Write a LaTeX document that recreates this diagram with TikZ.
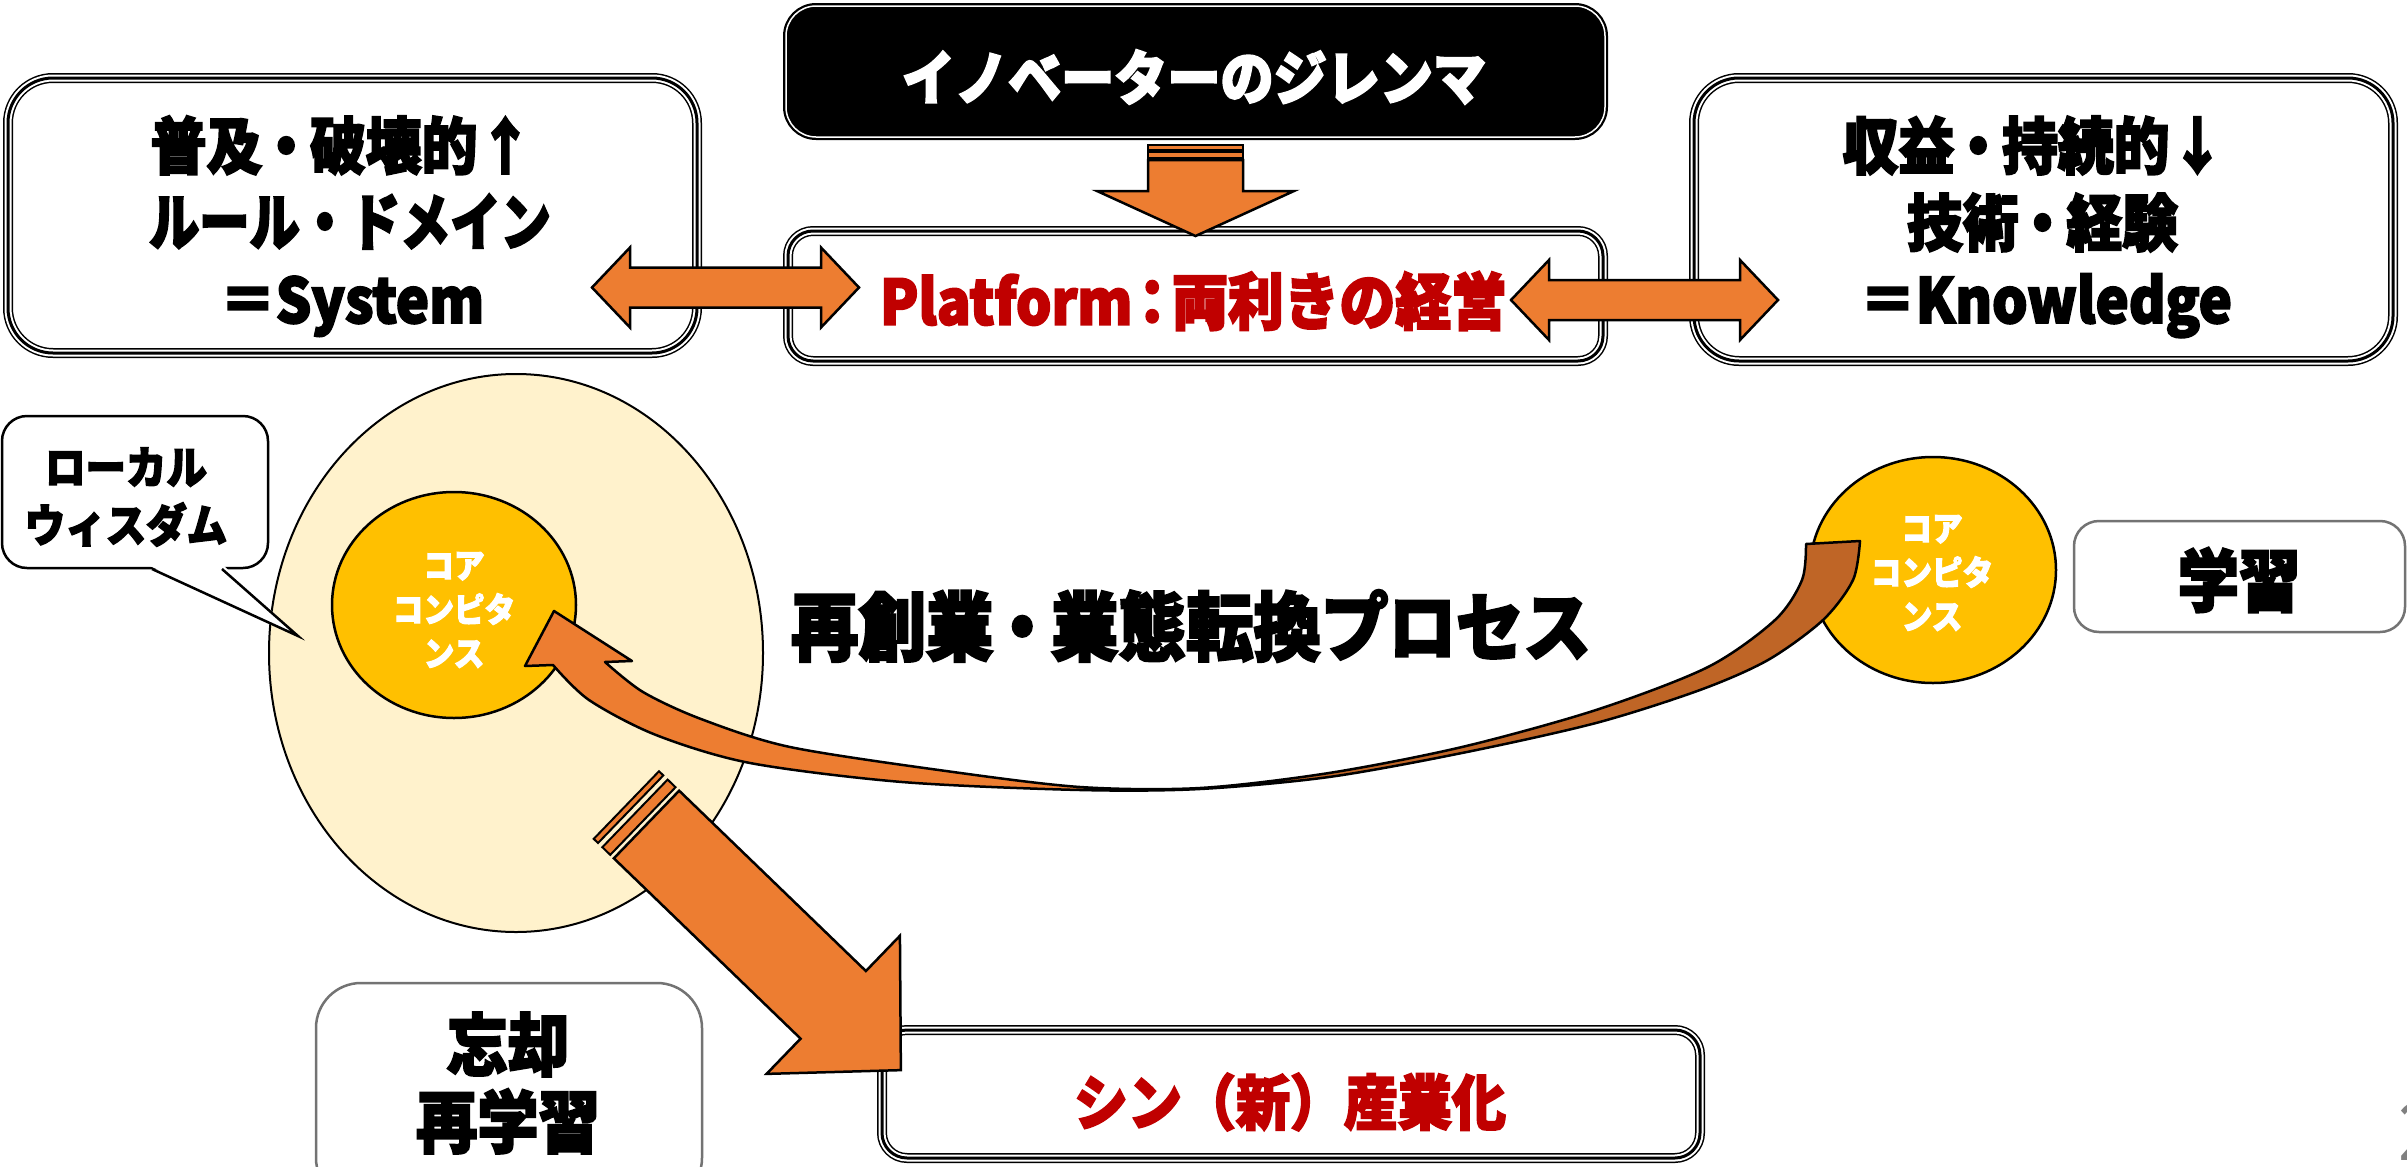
\documentclass[tikz,border=0pt]{standalone}
\usepackage{fontspec}
\setmainfont{Noto Sans CJK JP}[FakeStretch=0.9,BoldFeatures={FakeBold=3}]
\newfontfamily\jpnarrow{Noto Sans CJK JP}[FakeStretch=0.81,BoldFeatures={FakeBold=3}]
\usetikzlibrary{shapes.geometric}
\definecolor{arrO}{HTML}{ED7D31}
\definecolor{tailB}{HTML}{BF6526}
\definecolor{paleY}{HTML}{FFF2CC}
\definecolor{goldC}{HTML}{FFC000}
\definecolor{darkRed}{HTML}{C00000}
\definecolor{boxGray}{HTML}{737373}
\newcommand\ribbonpath{(554,611) -- (525,666) -- (553,665)
  -- plot[smooth] coordinates {(553,665) (589,700) (656,735) (750,763) (902,782) (1080,790) (1200,789) (1329,777) (1462,753) (1596,723) (1700,690) (1768,660) (1823,620) (1853,580) (1860,541)}
  -- plot[smooth] coordinates {(1806,544) (1802,580) (1775,620) (1708,667) (1596,710) (1462,747) (1329,773) (1200,788) (1080,787) (946,771) (790,747) (701,719) (643,692) (605,662)}
  -- (632,661) -- cycle}
\begin{document}
\begin{tikzpicture}[x=1pt,y=-1pt,
  tri/.style={draw=black,line width=10pt,postaction={draw=white,line width=7pt},postaction={draw=black,line width=3pt}},
  arr/.style={fill=arrO,draw=black,line width=2.5pt,line join=miter,miter limit=12},
  txt/.style={inner sep=0pt,align=center},
  fsA/.style={font=\bfseries\fontsize{62}{76}\selectfont},
  fsB/.style={font=\bfseries\fontsize{59}{70}\selectfont},
  fsC/.style={font=\bfseries\fontsize{75}{80}\selectfont},
  fsD/.style={font=\bfseries\fontsize{34}{44}\selectfont},
  fsE/.style={font=\bfseries\fontsize{45}{58}\selectfont},
  fsF/.style={font=\bfseries\fontsize{68}{77}\selectfont},
  fsG/.style={font=\bfseries\fontsize{60}{70}\selectfont},
  graybox/.style={draw=boxGray,line width=2.5pt,fill=white},
]
\fill[white] (0,0) rectangle (2407,1167);
\useasboundingbox (0,0) rectangle (2407,1167);

% ---- left context ellipse with core competence
\node[ellipse,draw,fill=paleY,line width=2pt,inner sep=0,minimum width=494,minimum height=558] (ctx) at (516,653) {};
\node[ellipse,draw,fill=goldC,line width=2.5pt,inner sep=0,minimum width=244,minimum height=226] (coreL) at (454,605) {};
\node[txt,fsD,white] (coreLt) at (454,610) {コア\\コンピタ\\ンス};

% ---- callout
\node[draw,fill=white,line width=2.5pt,rounded corners=25,minimum width=266,minimum height=152,inner sep=0] (wis) at (135,492) {};
\coordinate (wtip) at (298,636);
\fill[white] (150,566) -- (wtip) -- (224,566) -- cycle;
\draw[line width=2.5pt,line join=miter] (152,569) -- (wtip) -- (222,569);
\node[txt,fsE] (wist) at (126,497) {ローカル\\ウィスダム};

% ---- right core competence
\node[ellipse,draw,fill=goldC,line width=2.5pt,inner sep=0,minimum width=246,minimum height=226] (coreR) at (1933,570) {};
\node[txt,fsD,white] (coreRt) at (1932,573) {コア\\コンピタ\\ンス};

% ---- curved (twisted) arrow: front face orange, back face brown
\fill[arrO] \ribbonpath;
\begin{scope}
\clip (1190,400) rectangle (2000,900);
\fill[tailB] \ribbonpath;
\end{scope}
\draw[line width=2.5pt,line join=round] \ribbonpath;

% ---- top boxes
\node[tri,rounded corners=45,minimum width=689,minimum height=275] (sys) at (352.5,215.5) {};
\node[txt,fsA,anchor=base] (sys1) at (342,169) {普及\kern-4pt・\kern-4pt 破壊的↑};
\node[txt,fsA,anchor=base] (sys2) at (350,245) {\jpnarrow ルール・ドメイン};
\node[txt,fsA,anchor=base] (sys3) at (352,323) {＝System};

\node[tri,rounded corners=45,minimum width=699,minimum height=283] (know) at (2043.5,219.5) {};
\node[txt,fsA,anchor=base] (know1) at (2034,169) {収益\kern-4pt・\kern-4pt 持続的↓};
\node[txt,fsA,anchor=base] (know2) at (2042.5,246) {技術\kern-4pt・\kern-4pt 経験};
\node[txt,fsA,anchor=base] (know3) at (2046,323) {＝Knowledge};

\node[fill=black,draw=black,line width=6pt,postaction={draw=white,line width=1.5pt},rounded corners=30,minimum width=819,minimum height=131] (dil) at (1195.5,71.5) {};
\node[txt,fsB,white] (dilt) at (1194,77) {イノベーターのジレンマ};

\node[tri,rounded corners=25,minimum width=815,minimum height=130] (plat) at (1195.5,296) {};
\node[txt,fsA,darkRed] (platt) at (1193.5,301) {Platform\kern-8pt：\kern-8pt 両利きの経営};

% ---- down striped arrow
\path[arr,line width=2pt] (1148,145) rectangle (1243,149.5);
\path[arr,line width=2pt] (1148,152) rectangle (1243,157.5);
\path[arr] (1148,160) -- (1148,191) -- (1097,191) -- (1195.5,236) -- (1294,191) -- (1243,191) -- (1243,160) -- cycle;

% ---- double arrows
\path[arr] (592,287.5) -- (630,247.5) -- (630,267.5) -- (821,267.5) -- (821,247.5) -- (859,287.5)
  -- (821,327.5) -- (821,307.5) -- (630,307.5) -- (630,327.5) -- cycle;
\path[arr] (1511,300) -- (1549,260) -- (1549,280) -- (1740,280) -- (1740,260) -- (1778,300)
  -- (1740,340) -- (1740,320) -- (1549,320) -- (1549,340) -- cycle;

% ---- process label
\node[txt,fsC] (proc) at (1191,626) {再創業\kern-5pt・\kern-5pt 業態転換プロセス};

% ---- learning box
\node[graybox,rounded corners=25,minimum width=331,minimum height=111] (learn) at (2239.5,576.5) {};
\node[txt,fsF] (learnt) at (2239,580) {学習};

% ---- forget box
\node[graybox,rounded corners=45,minimum width=386,minimum height=220] (forget) at (509,1093) {};
\node[txt,fsF] (forgett) at (508,1083) {忘却\\再学習};

% ---- new industry box
\node[tri,rounded corners=25,minimum width=818,minimum height=128] (shin) at (1291,1094) {};
\node[txt,fsG,darkRed] (shint) at (1290,1102) {シン（新）産業化};

% ---- big striped arrow
\begin{scope}[shift={(646.5,824.5)},rotate=-44]
\path[arr] (0,-47) -- (259.6,-47) -- (259.6,-96) -- (353.6,0) -- (259.6,96) -- (259.6,47) -- (0,47) -- cycle;
\path[arr,line width=2pt] (-16,-47) rectangle (-5,47);
\path[arr,line width=2pt] (-28,-47) rectangle (-22,47);
\end{scope}

% ---- page number (cut off at the right edge)
\node[inner sep=0,anchor=base west,text=gray,font=\fontsize{80}{80}\selectfont] (pg) at (2398,1160) {2};
\end{tikzpicture}
\end{document}
